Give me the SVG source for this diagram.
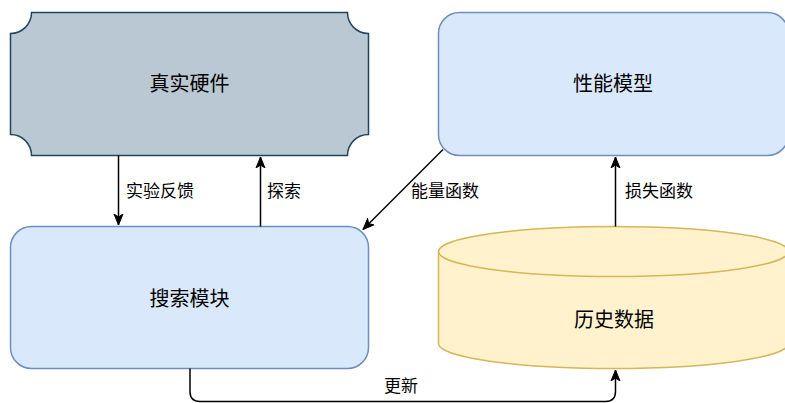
<svg xmlns="http://www.w3.org/2000/svg" width="785" height="403" viewBox="0 0 785 403">
<style>
.lbl{font-family:"Noto Sans CJK SC","Liberation Sans",sans-serif;font-size:17px;fill:#000;dominant-baseline:central}
.ntxt{font-family:"Noto Sans CJK SC","Liberation Sans",sans-serif;font-size:20px;fill:#000;text-anchor:middle;dominant-baseline:central}
.blue{fill:#dae8fc;stroke:#6c8ebf;stroke-width:1.5}
.edge{fill:none;stroke:#000;stroke-width:1.5}
</style>
<defs>
<marker id="arr" markerUnits="userSpaceOnUse" markerWidth="12" markerHeight="12" viewBox="0 0 12 12" refX="11" refY="6" orient="auto">
<path d="M0,1.5 L11,6 L0,10.5 L3,6 Z" fill="#000" stroke="#000" stroke-width="1"/>
</marker>
</defs>
<rect width="785" height="403" fill="#fff"/>
<g id="hardware">
<path d="M31.5 12.5 L347.5 12.5 A21 21 0 0 0 368.5 33.5 L368.5 134.5 A21 21 0 0 0 347.5 155.5 L31.5 155.5 A21 21 0 0 0 10.5 134.5 L10.5 33.5 A21 21 0 0 0 31.5 12.5 Z" fill="#bac8d3" stroke="#23445d" stroke-width="1.5"/>
<text class="ntxt" x="189.5" y="82">真实硬件</text>
</g>
<g id="perf-model">
<rect class="blue" x="438.5" y="12.5" width="350" height="143" rx="21" ry="21"/>
<text class="ntxt" x="613" y="82">性能模型</text>
</g>
<g id="search">
<rect class="blue" x="10.5" y="226.5" width="358" height="142" rx="21" ry="21"/>
<text class="ntxt" x="189.5" y="297">搜索模块</text>
</g>
<g id="history">
<path d="M438.5 251.5 A175 25 0 0 1 788.5 251.5 L788.5 343.5 A175 25 0 0 1 438.5 343.5 Z" fill="#fff2cc" stroke="#d6b656" stroke-width="1.5"/>
<path d="M438.5 251.5 A175 25 0 0 0 788.5 251.5" fill="none" stroke="#d6b656" stroke-width="1.5"/>
<text class="ntxt" x="614" y="318">历史数据</text>
</g>
<g id="connectors">
<path class="edge" d="M118.5 155.5 L118.5 225" marker-end="url(#arr)"/>
<path class="edge" d="M260.5 226.5 L260.5 157" marker-end="url(#arr)"/>
<path class="edge" d="M443 149.5 L363 229.5" marker-end="url(#arr)"/>
<path class="edge" d="M615.5 226.5 L615.5 157" marker-end="url(#arr)"/>
<path class="edge" d="M190 368.5 L190 391.5 Q190 401.5 200 401.5 L605.5 401.5 Q615.5 401.5 615.5 391.5 L615.5 370" marker-end="url(#arr)"/>
<text class="lbl" x="126" y="189">实验反馈</text>
<text class="lbl" x="267" y="189">探索</text>
<text class="lbl" x="411" y="189">能量函数</text>
<text class="lbl" x="625" y="189">损失函数</text>
<text class="lbl" x="384" y="384">更新</text>
</g>
</svg>
